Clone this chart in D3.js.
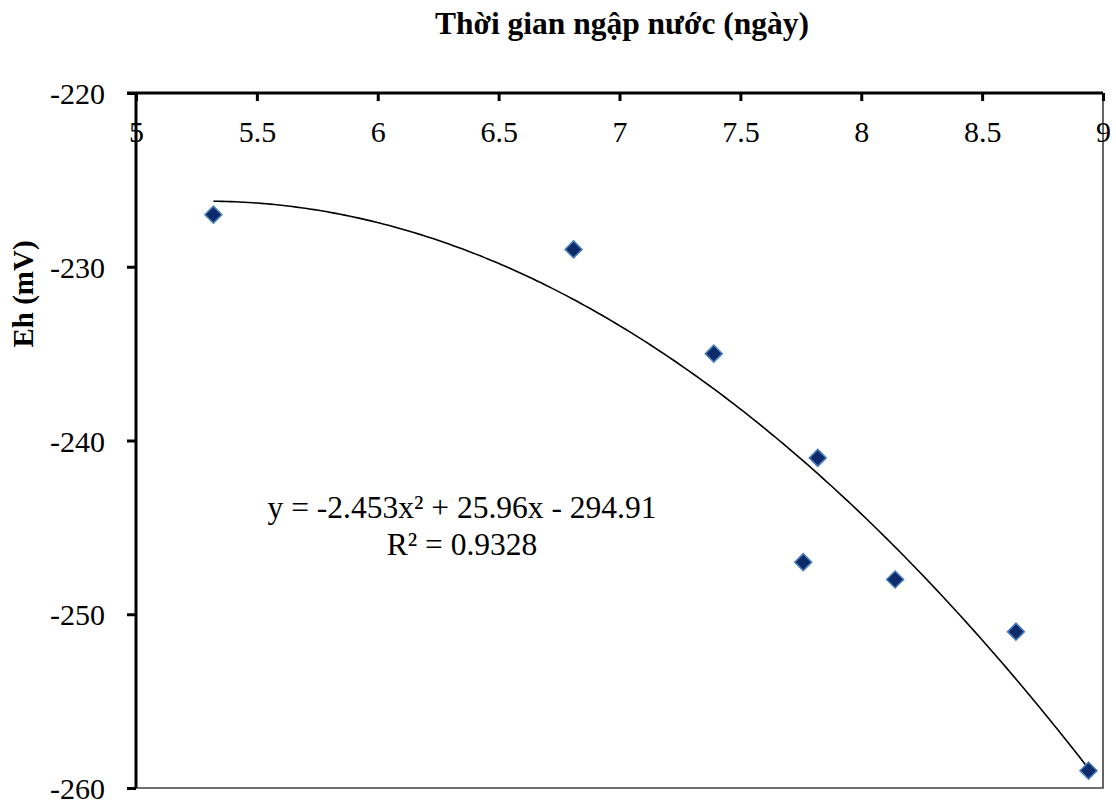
<!DOCTYPE html>
<html>
<head>
<meta charset="utf-8">
<script src="https://cdn.jsdelivr.net/npm/d3@7"></script>
<style>
  html, body { margin: 0; padding: 0; background: #fff; }
  svg { display: block; font-family: "Liberation Serif", "Times New Roman", serif; }
  svg text { font-family: "Liberation Serif", "Times New Roman", serif; }
</style>
</head>
<body>
<svg id="chart" width="1116" height="805"></svg>
<script>
// Flooding duration (days) vs. redox potential Eh (mV)
const days = [5.32, 6.81, 7.39, 7.82, 7.76, 8.14, 8.64, 8.94];
const eh = [-227, -229, -235, -241, -247, -248, -251, -259];
const xTicks = [5, 5.5, 6, 6.5, 7, 7.5, 8, 8.5, 9];
const yTicks = [-220, -230, -240, -250, -260];
// Polynomial trendline coefficients (order 2): y = a x^2 + b x + c
const coef = [-2.453, 25.96, -294.91];
const equationText = "y = -2.453x² + 25.96x - 294.91";
const r2Text = "R² = 0.9328";

const svg = d3.select("#chart");
const plotL = 136, plotR = 1103, plotT = 93, plotB = 788;

const x = d3.scaleLinear().domain([5, 9]).range([plotL, plotR]);
const y = d3.scaleLinear().domain([-220, -260]).range([plotT, plotB]);

// Plot border (right and bottom edges)
svg.append("path")
  .attr("d", `M${plotR},${plotT}V${plotB}H${plotL}`)
  .attr("fill", "none").attr("stroke", "#404040").attr("stroke-width", 1.6);

// X axis along the top, ticks pointing down into the plot
const xAxis = d3.axisBottom(x).tickValues(xTicks).tickSize(8).tickPadding(20)
  .tickFormat(d => String(d));
const gx = svg.append("g").attr("transform", `translate(0,${plotT})`).call(xAxis);
gx.attr("font-family", null);
gx.select(".domain").attr("d", `M${plotL - 9},0H${plotR}`).attr("stroke", "#000").attr("stroke-width", 3);
gx.selectAll(".tick line").attr("stroke", "#000").attr("stroke-width", 3);
gx.selectAll(".tick text").attr("font-size", 30).attr("fill", "#000");

// Y axis on the left, ticks pointing outward; plain hyphen for negatives
const yAxis = d3.axisLeft(y).tickValues(yTicks).tickSize(9).tickPadding(22)
  .tickFormat(d => String(d));
const gy = svg.append("g").attr("transform", `translate(${plotL},0)`).call(yAxis);
gy.attr("font-family", null);
gy.select(".domain").attr("d", `M0,${plotT}V${plotB}`).attr("stroke", "#000").attr("stroke-width", 3);
gy.selectAll(".tick line").attr("stroke", "#000").attr("stroke-width", 3);
gy.selectAll(".tick text").attr("font-size", 30).attr("fill", "#000").attr("dy", "0.35em");

// Trendline
const xMin = d3.min(days), xMax = d3.max(days);
const curve = d3.range(xMin, xMax + 1e-9, (xMax - xMin) / 200)
  .map(v => [v, coef[0] * v * v + coef[1] * v + coef[2]]);
svg.append("path")
  .datum(curve)
  .attr("d", d3.line().x(d => x(d[0])).y(d => y(d[1])))
  .attr("fill", "none").attr("stroke", "#000").attr("stroke-width", 1.6);

// Diamond markers
svg.append("g").selectAll("path")
  .data(days.map((d, i) => [d, eh[i]]))
  .join("path")
  .attr("transform", d => `translate(${x(d[0])},${y(d[1])})`)
  .attr("d", "M0,-8.5L8.5,0L0,8.5L-8.5,0Z")
  .attr("fill", "#0d2b6b").attr("stroke", "#4a7ebb").attr("stroke-width", 1.5);

// Equation and R²
const eq = svg.append("g").attr("font-size", 31.5).attr("fill", "#000").attr("text-anchor", "middle");
eq.append("text").attr("x", 462).attr("y", 518).text(equationText);
eq.append("text").attr("x", 462).attr("y", 555).text(r2Text);

// Axis titles
svg.append("text")
  .attr("x", 622).attr("y", 34)
  .attr("text-anchor", "middle").attr("font-size", 31.5).attr("font-weight", "bold")
  .text("Thời gian ngập nước (ngày)");
svg.append("text")
  .attr("transform", "translate(33,294) rotate(-90)")
  .attr("text-anchor", "middle").attr("font-size", 29).attr("font-weight", "bold")
  .text("Eh (mV)");
</script>
</body>
</html>
